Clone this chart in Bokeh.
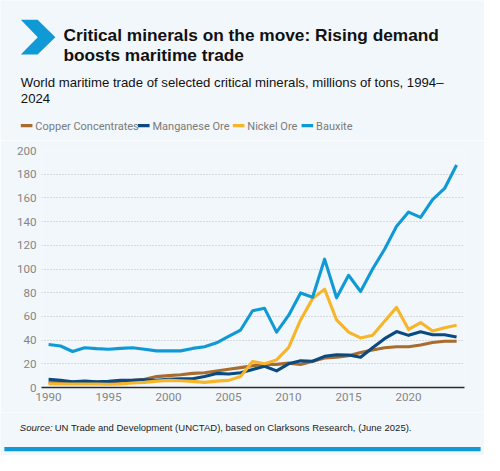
from bokeh.plotting import figure
from bokeh.layouts import column
from bokeh.models import Range1d, FixedTicker
from bokeh.core.properties import value
from bokeh.embed import file_html
from bokeh.resources import INLINE

years = list(range(1990, 2025))
copper = [4.3, 4.6, 4.9, 4.9, 4.6, 4.9, 5.4, 6.0, 7.0, 9.2, 10.0, 10.8, 11.9, 12.5, 14.0,
          15.4, 16.8, 18.4, 19.5, 19.5, 20.6, 19.5, 22.2, 24.9, 25.5, 26.8, 29.6, 31.7,
          33.6, 34.4, 34.4, 35.8, 38.0, 39.0, 39.0]
manganese = [7.0, 6.0, 4.9, 5.4, 4.9, 5.2, 6.0, 6.0, 6.5, 6.0, 7.0, 7.3, 7.3, 9.2, 11.9,
             11.4, 12.5, 15.2, 17.9, 14.0, 20.0, 22.5, 22.2, 26.3, 27.6, 27.4, 25.5, 33.6,
             41.2, 47.2, 44.0, 47.0, 44.5, 44.5, 42.6]
nickel = [3.2, 3.0, 3.0, 3.0, 3.0, 2.7, 3.0, 3.8, 4.3, 5.4, 6.0, 5.7, 5.2, 4.3, 5.4,
          6.0, 9.2, 22.0, 20.0, 23.3, 33.6, 57.0, 75.0, 83.0, 57.0, 46.7, 41.8, 44.0,
          56.0, 67.6, 49.0, 54.8, 47.7, 50.5, 52.6]
bauxite = [36.3, 35.0, 30.4, 33.6, 32.8, 32.3, 33.0, 33.6, 32.3, 30.9, 30.9, 30.9, 33.0,
           34.4, 37.7, 43.1, 48.5, 64.8, 66.8, 46.7, 60.8, 79.8, 76.2, 108.3, 75.7, 94.7,
           81.0, 100.0, 116.7, 136.0, 148.0, 143.6, 158.5, 168.0, 187.8]

series_names = ["Copper Concentrates", "Manganese Ore", "Nickel Ore", "Bauxite"]
series_values = [copper, manganese, nickel, bauxite]
series_colors = ["#a86c2e", "#0a4a80", "#f7b52a", "#0f9ad6"]

y_ticks = list(range(0, 201, 20))
x_ticks = list(range(1990, 2021, 5))

title_lines = ["Critical minerals on the move: Rising demand", "boosts maritime trade"]
subtitle_lines = ["World maritime trade of selected critical minerals, millions of tons, 1994\u2013",
                  "2024"]
source_label = "Source:"
source_text = "UN Trade and Development (UNCTAD), based on Clarksons Research, (June 2025)."

BG = "#f2f7fb"
BLUE = "#0f9ad6"
COND = "Roboto"
SANS = "Liberation Sans"
W, H = 484, 455
KX, KY = W / 500, H / 471


def X(v):
    return v * KX


def Y(v):
    return v * KY


def bare(fig):
    fig.background_fill_color = BG
    fig.border_fill_color = BG
    fig.outline_line_color = None
    return fig


# ---------------- header ----------------
HH = 140
head = bare(figure(width=W, height=HH, output_backend="svg", toolbar_location=None,
                   x_range=Range1d(0, W), y_range=Range1d(HH, 0),
                   x_axis_type=None, y_axis_type=None, min_border=0, frame_align=False))

head.patch([X(v) for v in (21, 38.3, 56.7, 38.3, 21, 38.5)],
           [Y(v) for v in (20, 20, 38, 56, 56, 38)],
           fill_color=BLUE, line_color=None)
head.text(x=[X(65)] * 2, y=[Y(35.7), Y(56)], text=title_lines,
          text_font=value(SANS), text_font_style="bold", text_font_size="17.3px",
          text_color="#111111", text_baseline="alphabetic")
head.text(x=[X(21)] * 2, y=[Y(85.3), Y(101.3)], text=subtitle_lines,
          text_font=value(SANS), text_font_size="13.2px",
          text_color="#111111", text_baseline="alphabetic")

leg_x = [X(v) for v in (21, 142, 240, 311)]
leg_y = Y(129.5)
head.segment(x0=leg_x, y0=[leg_y] * 4, x1=[v + X(12) for v in leg_x], y1=[leg_y] * 4,
             line_color=series_colors, line_width=3.1)
head.text(x=[v + X(15) for v in leg_x], y=[leg_y + 0.5] * 4, text=series_names,
          text_font=value(COND), text_font_size="11px", text_color="#7a7a7a",
          text_baseline="middle")

# ---------------- chart ----------------
FL, FR, FT, FH, FB = 41, 20, 10, 237, 25
chart = bare(figure(width=W, height=FT + FH + FB, output_backend="svg", toolbar_location=None,
                    x_range=Range1d(1989.41, 2024.66), y_range=Range1d(0, 200),
                    min_border=0, frame_align=False))
chart.min_border_left = FL
chart.min_border_right = FR
chart.min_border_top = FT
chart.min_border_bottom = FB

for name, vals, col in zip(series_names, series_values, series_colors):
    chart.line(years, vals, line_color=col, line_width=3.1, line_join="round")

chart.xgrid.grid_line_color = None
chart.ygrid.grid_line_color = "#bdbdbd"
chart.ygrid.grid_line_dash = "1 2"
chart.ygrid.grid_line_width = 1
chart.yaxis.ticker = FixedTicker(ticks=y_ticks)
chart.xaxis.ticker = FixedTicker(ticks=x_ticks)
chart.yaxis.axis_line_color = None
chart.xaxis.axis_line_color = "#2b2b2b"
chart.xaxis.axis_line_width = 1.3
for ax in (chart.xaxis, chart.yaxis):
    ax.major_tick_line_color = None
    ax.minor_tick_line_color = None
    ax.major_tick_out = 0
    ax.major_tick_in = 0
    ax.minor_tick_out = 0
    ax.minor_tick_in = 0
    ax.major_label_standoff = 5
    ax.major_label_text_font = COND
    ax.major_label_text_font_size = "11.6px"
    ax.major_label_text_color = "#858585"

# ---------------- footer ----------------
FTOP = HH + FT + FH + FB
FH2 = H - FTOP
foot = bare(figure(width=W, height=FH2, output_backend="svg", toolbar_location=None,
                   x_range=Range1d(0, W), y_range=Range1d(FH2, 0),
                   x_axis_type=None, y_axis_type=None, min_border=0, frame_align=False))
foot.text(x=[X(20)], y=[Y(442) - FTOP], text=[source_label], text_font=value(SANS),
          text_font_style="italic", text_font_size="9.5px", text_color="#222222",
          text_baseline="alphabetic")
foot.text(x=[X(56)], y=[Y(442) - FTOP], text=[source_text], text_font=value(SANS),
          text_font_size="9.5px", text_color="#222222", text_baseline="alphabetic")
foot.quad(left=[X(4)], right=[X(496)], top=[Y(462.3) - FTOP], bottom=[Y(466.7) - FTOP],
          fill_color=BLUE, line_color=None)

layout = column(head, chart, foot, spacing=0)

open("out.html", "w").write(file_html(layout, INLINE))
